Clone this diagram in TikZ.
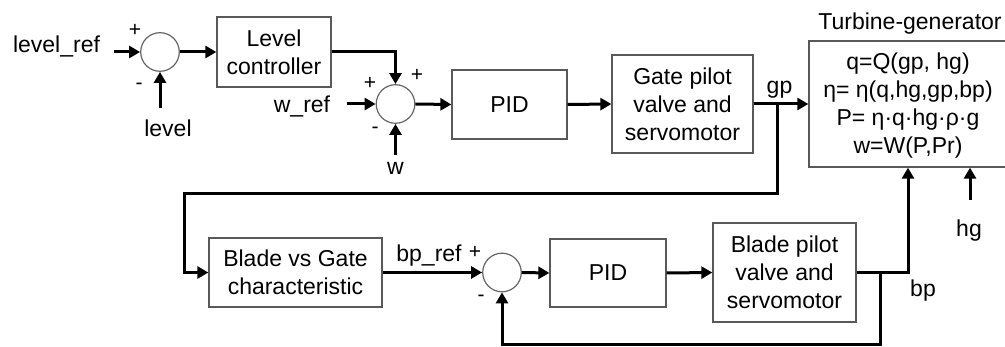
\documentclass[tikz,border=0pt]{standalone}
\usepackage{fontspec}
\setmainfont{Liberation Sans}
\usetikzlibrary{arrows.meta,calc}
\begin{document}
\begin{tikzpicture}[x=1pt,y=-1pt,
  every node/.style={font=\fontsize{23}{28}\selectfont, inner sep=0pt},
  blk/.style={draw=black!65, line width=1.3pt, align=center, fill=white},
  sumc/.style={draw=black!60, line width=1.2pt, circle, minimum size=38.6pt},
  conn/.style={line width=3pt, -{Triangle[length=11pt,width=12pt]}},
  sgn/.style={font=\fontsize{21}{24}\selectfont}
]
\useasboundingbox (0,0) rectangle (1005,347);
\fill[white] (0,0) rectangle (1005,347);
% nodes
\node[sumc] (s1) at (160,52) {};
\node[blk, minimum width=114pt, minimum height=70pt] (lc) at (274,52) {Level\\controller};
\node[sumc] (s2) at (395.5,104) {};
\node[blk, minimum width=115pt, minimum height=69pt] (pid1) at (509.5,104.5) {PID};
\node[blk, minimum width=141pt, minimum height=98pt] (gate) at (682.5,104) {Gate pilot\\valve and\\servomotor};
\node[blk, minimum width=198pt, minimum height=126pt] (tg) at (908,104) {};
\node[align=center] (tgt) at (908,106) {q=Q(gp, hg)\\η= η(q,hg,gp,bp)\\P= η·q·hg·ρ·g\\w=W(P,Pr)};
\node[anchor=base] (tgl) at (910,29.5) {Turbine-generator};
\node[blk, minimum width=173pt, minimum height=69pt] (bvg) at (295.5,272.5) {Blade vs Gate\\characteristic};
\node[sumc] (s3) at (502,272.5) {};
\node[blk, minimum width=116pt, minimum height=68pt] (pid2) at (608,273) {PID};
\node[blk, minimum width=143pt, minimum height=99pt] (bpv) at (784.5,272.5) {Blade pilot\\valve and\\servomotor};
% labels
\node[anchor=base] (lref) at (56.5,53) {level\_ref};
\node[anchor=base] (lvl) at (168,137) {level};
\node[anchor=base] (wref) at (302,113) {w\_ref};
\node[anchor=base] (wl) at (395.5,175) {w};
\node[anchor=base] (gpl) at (779.5,94) {gp};
\node[anchor=base] (bprefl) at (429,261.5) {bp\_ref};
\node[anchor=base] (bpl) at (923,296.5) {bp};
\node[anchor=base] (hgl) at (969,236.5) {hg};
\node[sgn] (p1) at (135,30) {+};
\node[sgn] (m1) at (139,86) {-};
\node[sgn] (p2a) at (370,83) {+};
\node[sgn] (p2b) at (417,75) {+};
\node[sgn] (m2) at (375,130) {-};
\node[sgn] (p3) at (475,252) {+};
\node[sgn] (m3) at (481,298) {-};
% coordinates
\coordinate (lrefin) at (114,52);
\coordinate (lvlin) at (160,108);
\coordinate (wrefin) at (347,104);
\coordinate (win) at (395.5,155);
\coordinate (gpb) at (777,104);
\coordinate (c1) at (184,194);
\coordinate (bpb) at (880,272.5);
\coordinate (bpc) at (880,345);
\coordinate (hgin) at (970,200);
% connectors
\draw[conn] (lrefin) -- (s1.west);
\draw[conn] (lvlin) -- (s1.south);
\draw[conn] (s1.east) -- (lc.west);
\draw[conn] (lc.east) -| (s2.north);
\draw[conn] (wrefin) -- (s2.west);
\draw[conn] (win) -- (s2.south);
\draw[conn] (s2.east) -- (pid1.west);
\draw[conn] (pid1.east) -- (gate.west);
\draw[conn] (gate.east) -- (gate.east -| tg.west);
\draw[conn] (gpb) |- (c1) |- (bvg.west);
\draw[conn] (bvg.east) -- (s3.west);
\draw[conn] (s3.east) -- (pid2.west);
\draw[conn] (pid2.east) -- (bpv.west);
\draw[conn] (bpv.east) -| (tg.south);
\draw[conn] (bpb) -- (bpc) -| (s3.south);
\draw[conn] (hgin) -- (hgin |- tg.south);
\end{tikzpicture}
\end{document}
